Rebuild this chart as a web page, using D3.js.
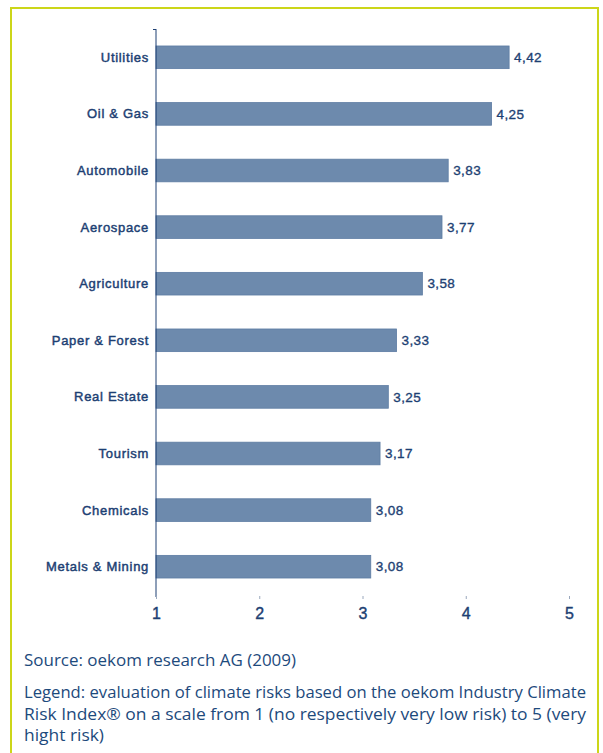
<!DOCTYPE html>
<html><head><meta charset="utf-8">
<script src="https://cdn.jsdelivr.net/npm/d3@7"></script>
<style>body{margin:0;background:#fff}svg{display:block}</style>
</head><body>
<script>
const categories = ["Utilities","Oil & Gas","Automobile","Aerospace","Agriculture","Paper & Forest","Real Estate","Tourism","Chemicals","Metals & Mining"];
const values = [4.42,4.25,3.83,3.77,3.58,3.33,3.25,3.17,3.08,3.08];
const valueLabels = ["4,42","4,25","3,83","3,77","3,58","3,33","3,25","3,17","3,08","3,08"];
const tickValues = [1,2,3,4,5];
const sourceText = "Source: oekom research AG (2009)";
const legendLines = ["Legend: evaluation of climate risks based on the oekom Industry Climate","Risk Index® on a scale from 1 (no respectively very low risk) to 5 (very","hight risk)"];

const W=603,H=753;
const svg=d3.select("body").append("svg").attr("width",W).attr("height",H);
svg.append("rect").attr("x",11).attr("y",8).attr("width",587).attr("height",760)
  .attr("fill","none").attr("stroke","#ccd619").attr("stroke-width",2);

const x=d3.scaleLinear().domain([1,5]).range([156,569]);
const y=d3.scaleBand().domain(categories).range([29,595]).paddingInner(0.6).paddingOuter(0.3);
const navy="#1d3f73";
const fontLbl="'Liberation Sans', Arial, sans-serif";

const g=svg.append("g");
g.selectAll("rect.bar").data(categories).join("rect")
  .attr("x",x(1)).attr("y",d=>y(d)).attr("width",(d,i)=>x(values[i])-x(1))
  .attr("height",y.bandwidth()).attr("fill","#6d8aad")
  .attr("stroke","#5d7ca3").attr("stroke-width",0.8);
g.selectAll("text.cat").data(categories).join("text")
  .attr("x",149).attr("y",d=>y(d)+y.bandwidth()/2).attr("dy","0.35em")
  .attr("text-anchor","end").attr("font-family",fontLbl).attr("font-size",13)
  .attr("fill",navy).attr("stroke",navy).attr("stroke-width",0.45)
  .attr("letter-spacing","0.7").text(d=>d);
g.selectAll("text.val").data(categories).join("text")
  .attr("x",(d,i)=>x(values[i])+5).attr("y",d=>y(d)+y.bandwidth()/2).attr("dy","0.35em")
  .attr("font-family",fontLbl).attr("font-size",13.5).attr("fill",navy)
  .attr("stroke",navy).attr("stroke-width",0.35).attr("letter-spacing","0.4").text((d,i)=>valueLabels[i]);

// vertical axis line
g.append("line").attr("x1",x(1)).attr("x2",x(1)).attr("y1",29).attr("y2",597)
  .attr("stroke",navy).attr("stroke-width",1);
g.append("line").attr("x1",x(1)-3).attr("x2",x(1)).attr("y1",29.5).attr("y2",29.5)
  .attr("stroke",navy).attr("stroke-width",1);

const ax=d3.axisBottom(x).tickValues(tickValues).tickSize(3).tickFormat(d3.format("d"));
const axg=svg.append("g").attr("transform","translate(0,596)").call(ax);
axg.select(".domain").remove();
axg.selectAll(".tick line").attr("stroke","#9aa8bd");
axg.selectAll(".tick text").attr("font-family",fontLbl).attr("font-size",16).attr("fill",navy)
  .attr("stroke",navy).attr("stroke-width",0.4).attr("dy","1.05em");

const ft="'Open Sans', 'Noto Sans', sans-serif";
svg.append("text").attr("x",24).attr("y",666).attr("font-family",ft).attr("font-size",17).attr("fill","#1d4a7c")
  .attr("textLength",272).attr("lengthAdjust","spacingAndGlyphs").text(sourceText);
svg.selectAll("text.leg").data(legendLines).join("text").attr("x",24).attr("y",(d,i)=>698+i*21.5)
  .attr("font-family",ft).attr("font-size",17).attr("fill","#1d4a7c")
  .each(function(d,i){d3.select(this).text(d); d3.select(this).attr("textLength",[562,562,80][i]).attr("lengthAdjust","spacingAndGlyphs");});
</script>
</body></html>
